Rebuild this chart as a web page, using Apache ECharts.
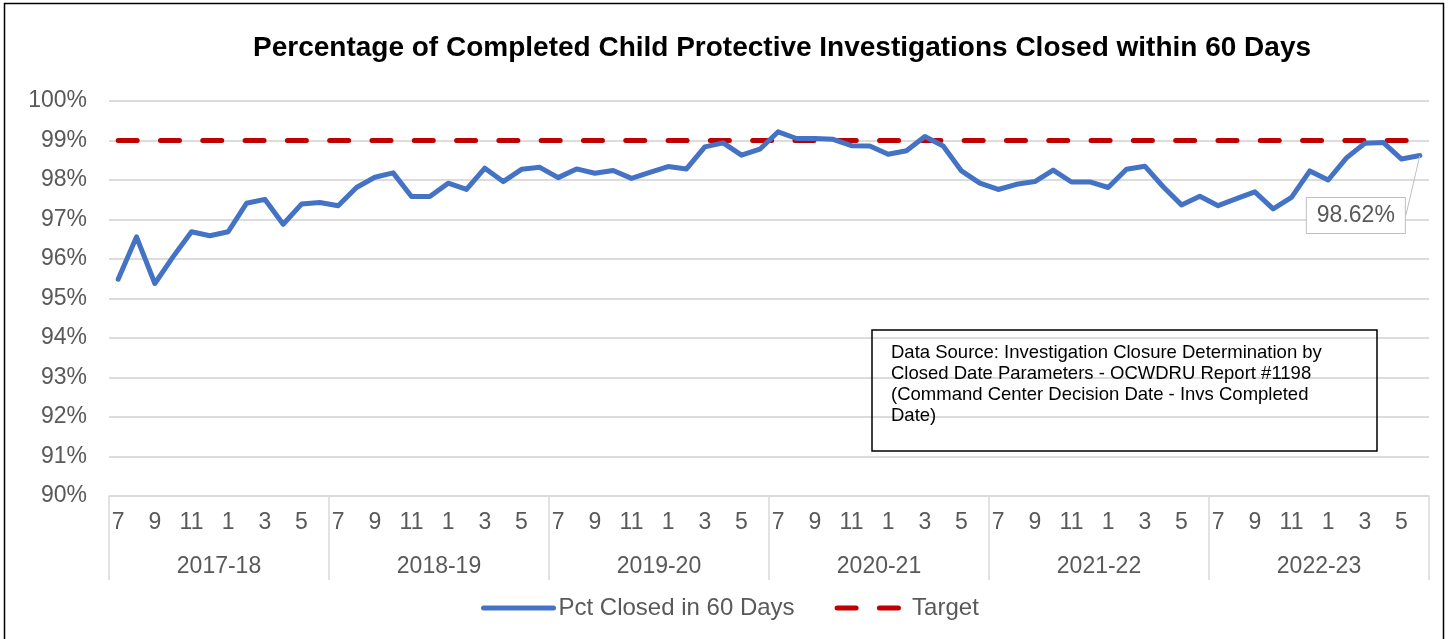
<!DOCTYPE html>
<html>
<head>
<meta charset="utf-8">
<script src="https://cdn.jsdelivr.net/npm/echarts@6/dist/echarts.min.js"></script>
<style>
  html, body { margin: 0; padding: 0; background: #fff; }
  #c1 { width: 1448px; height: 639px; }
</style>
</head>
<body>
<div id="c1"></div>
<script>
// month of each point, fiscal years run July-June
var months = [];
var fiscalYears = ["2017-18", "2018-19", "2019-20", "2020-21", "2021-22", "2022-23"];
var monthOrder = [7, 8, 9, 10, 11, 12, 1, 2, 3, 4, 5, 6];
for (var y = 0; y < fiscalYears.length; y++) {
  for (var m = 0; m < monthOrder.length; m++) {
    months.push(String(monthOrder[m]));
  }
}

// Pct Closed in 60 Days (%)
var pctClosed = [
  95.49, 96.56, 95.38, 96.06, 96.69, 96.59, 96.69, 97.41, 97.51, 96.88, 97.39, 97.43,
  97.35, 97.81, 98.07, 98.18, 97.58, 97.58, 97.92, 97.76, 98.30, 97.96, 98.27, 98.32,
  98.06, 98.28, 98.17, 98.24, 98.04, 98.19, 98.34, 98.28, 98.84, 98.94, 98.63, 98.78,
  99.22, 99.05, 99.05, 99.03, 98.87, 98.86, 98.65, 98.74, 99.10, 98.86, 98.23, 97.92,
  97.76, 97.89, 97.96, 98.25, 97.95, 97.95, 97.81, 98.27, 98.35, 97.83, 97.37, 97.59,
  97.35, 97.53, 97.70, 97.27, 97.56, 98.23, 98.00, 98.56, 98.93, 98.95, 98.53, 98.62
];
var targetValue = 99;
var target = [];
for (var i = 0; i < pctClosed.length; i++) target.push(targetValue);

var sourceNote = "Data Source: Investigation Closure Determination by\nClosed Date Parameters - OCWDRU Report #1198\n(Command Center Decision Date - Invs Completed\nDate)";

var font = "Liberation Sans";
var grey = "#595959";

var lineData = pctClosed.map(function (v, idx) {
  if (idx === pctClosed.length - 1) {
    return { value: v, label: { show: true } };
  }
  return v;
});

var chartDom = document.getElementById("c1");
var myChart = echarts.init(chartDom);
var option;

option = {
  animation: false,
  textStyle: { fontFamily: font },
  title: {
    text: "Percentage of Completed Child Protective Investigations Closed within 60 Days",
    left: 248,
    top: 29,
    textStyle: {
      color: "#000",
      fontFamily: font,
      fontWeight: "bold",
      fontSize: 28,
    },
  },
  grid: {
    left: 109,
    right: 19,
    top: 101,
    bottom: 143,
  },
  legend: {
    left: 476,
    top: 591,
    itemWidth: 70,
    itemHeight: 14,
    itemGap: 40,
    data: ["Pct Closed in 60 Days", "Target"],
    itemStyle: { opacity: 0 },
    lineStyle: { width: 5, cap: "round" },
    textStyle: { color: grey, fontSize: 24, fontFamily: font },
  },
  xAxis: [
    {
      type: "category",
      position: "bottom",
      data: months,
      axisLine: { lineStyle: { color: "#d9d9d9", width: 1.5 } },
      axisTick: { show: false },
      axisLabel: {
        interval: 1,
        margin: 15,
        color: grey,
        fontSize: 23,
        fontFamily: font,
      },
    },
    {
      type: "category",
      position: "bottom",
      data: fiscalYears,
      axisLine: { show: false },
      axisTick: {
        show: true,
        length: 84,
        lineStyle: { color: "#d9d9d9", width: 1.5 },
      },
      axisLabel: {
        margin: 59,
        color: grey,
        fontSize: 23,
        fontFamily: font,
      },
    },
  ],
  yAxis: {
    type: "value",
    min: 90,
    max: 100,
    interval: 1,
    axisLine: { show: false },
    axisTick: { show: false },
    splitLine: { lineStyle: { color: "#d0d0d0", width: 1.5 } },
    axisLabel: {
      formatter: "{value}%",
      margin: 22,
      color: grey,
      fontSize: 23,
      fontFamily: font,
    },
  },
  series: [
    {
      name: "Pct Closed in 60 Days",
      type: "line",
      xAxisIndex: 0,
      data: lineData,
      symbol: "circle",
      symbolSize: 1,
      z: 3,
      itemStyle: { color: "#4472C4" },
      lineStyle: { color: "#4472C4", width: 5, join: "round", cap: "round" },
      label: {
        show: false,
        position: "inside",
        formatter: "{c}%",
        color: grey,
        fontSize: 23,
        fontFamily: font,
        backgroundColor: "#fff",
        borderColor: "#bfbfbf",
        borderWidth: 1,
        padding: [6, 10],
      },
      labelLayout: { dx: -64, dy: 60 },
      labelLine: {
        show: true,
        lineStyle: { color: "#bfbfbf", width: 1 },
      },
    },
    {
      name: "Target",
      type: "line",
      xAxisIndex: 0,
      data: target,
      symbol: "none",
      z: 2,
      itemStyle: { color: "#C00000" },
      lineStyle: { color: "#C00000", width: 5, type: [19, 23.3], cap: "round" },
    },
  ],
  graphic: [
    {
      type: "rect",
      shape: { x: 4.5, y: 3.5, width: 1439, height: 700 },
      style: { fill: "none", stroke: "#000", lineWidth: 1.5 },
      silent: true,
    },
    {
      type: "rect",
      shape: { x: 872, y: 330, width: 505, height: 121 },
      style: { fill: "none", stroke: "#000", lineWidth: 1.5 },
      z: 10,
    },
    {
      type: "text",
      x: 891,
      y: 343,
      z: 10,
      style: {
        text: sourceNote,
        fill: "#000",
        font: "18.5px 'Liberation Sans'",
        lineHeight: 20.7,
      },
    },
  ],
};

myChart.setOption(option);
window.addEventListener("resize", function () {
  myChart.resize();
});
</script>
</body>
</html>
